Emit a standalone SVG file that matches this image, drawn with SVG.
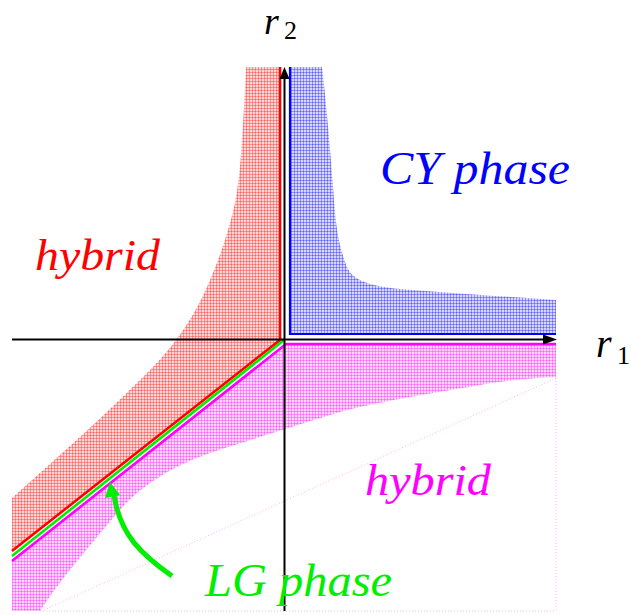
<svg xmlns="http://www.w3.org/2000/svg" width="631" height="615" viewBox="0 0 631 615">
<defs>
<pattern id="pr" width="3" height="3" patternUnits="userSpaceOnUse"><rect width="3" height="3" fill="#ff0000" fill-opacity="0.16"/><rect width="3" height="1" fill="#ff0000" fill-opacity="0.32"/><rect width="1" height="3" fill="#ff0000" fill-opacity="0.32"/></pattern>
<pattern id="pb" width="3" height="3" patternUnits="userSpaceOnUse"><rect width="3" height="3" fill="#0000ff" fill-opacity="0.16"/><rect width="3" height="1" fill="#0000ff" fill-opacity="0.32"/><rect width="1" height="3" fill="#0000ff" fill-opacity="0.32"/></pattern>
<pattern id="pm" width="3" height="3" patternUnits="userSpaceOnUse"><rect width="3" height="3" fill="#ff00ff" fill-opacity="0.16"/><rect width="3" height="1" fill="#ff00ff" fill-opacity="0.32"/><rect width="1" height="3" fill="#ff00ff" fill-opacity="0.32"/></pattern>
<style>
.lbl{font-family:"Liberation Serif","DejaVu Serif",serif;font-style:italic}
.sub{font-family:"Liberation Serif","DejaVu Serif",serif}
.ax{stroke:#000;stroke-width:2;fill:none}
.faint{stroke:#ff00ff;stroke-opacity:0.3;stroke-width:1;stroke-dasharray:1 2;fill:none}
</style>
</defs>
<g id="regions">
<path id="red-region" fill="url(#pr)" d="M246,67 L280,67 L280,340 L12,552 L12,498 C60,455 100,420 150,370 C175,345 195,315 207,287 C218,262 228,235 235,203 C240,180 242,150 246,67 Z"/>
<path id="blue-region" fill="url(#pb)" d="M290,67 L290,334 L556,334 L556,300 C500,296 447,293 400,289 C370,286 352,280 347,267 C340,250 336,230 334,200 C331,160 327,110 322,67 Z"/>
<path id="magenta-region" fill="url(#pm)" d="M285,344 L556,344 L556,377 C530,378 510,380 480,385 C420,395 360,405 330,415 C300,424 260,437 210,453 C170,467 140,487 120,510 C90,545 60,580 40,611 L12,611 L12,561 Z"/>
<path class="faint" d="M556,378 L42,611 M40,611 L556,611 M556,378 L556,611"/>
</g>
<g id="connectors">
<path d="M280,67 L280,340 L12,551" stroke="#ff0000" stroke-width="2.6" fill="none"/>
<path d="M284,340 L12,556" stroke="#00ee00" stroke-width="2.6" fill="none"/>
<path d="M556,344 L286,344 L12,561" stroke="#ff00ff" stroke-width="2.6" fill="none"/>
<path d="M290,67 L290,334 L556,334" stroke="#0000ff" stroke-width="2.2" fill="none"/>
<path class="ax" d="M12,339.5 L546,339.5"/>
<polygon points="557,339.5 543,334.5 543,344.5" fill="#000"/>
<path class="ax" d="M284.5,611 L284.5,78"/>
<polygon points="284.5,67 279.5,79 289.5,79" fill="#000"/>
<path d="M172,576 C142,555 120,535 114,495" stroke="#00ee00" stroke-width="5" fill="none"/>
<polygon points="110,482 105,498 120,495" fill="#00ee00"/>
</g>
<g id="labels">
<g id="r2"><text class="lbl" x="264" y="34" font-size="38">r</text><text class="sub" x="284" y="39" font-size="26">2</text></g>
<g id="r1"><text class="lbl" x="596" y="357" font-size="40">r</text><text class="sub" x="617" y="364" font-size="26">1</text></g>
<text id="cy" class="lbl" x="380" y="184" font-size="46" fill="#0000ff" textLength="190" lengthAdjust="spacingAndGlyphs">CY phase</text>
<text id="hybrid-red" class="lbl" x="35" y="270" font-size="45" fill="#ff0000" textLength="125" lengthAdjust="spacingAndGlyphs">hybrid</text>
<text id="hybrid-magenta" class="lbl" x="365" y="495" font-size="45" fill="#ff00ff" textLength="126" lengthAdjust="spacingAndGlyphs">hybrid</text>
<text id="lg" class="lbl" x="205" y="596" font-size="46" fill="#00ee00" textLength="187" lengthAdjust="spacingAndGlyphs">LG phase</text>
</g>
</svg>
